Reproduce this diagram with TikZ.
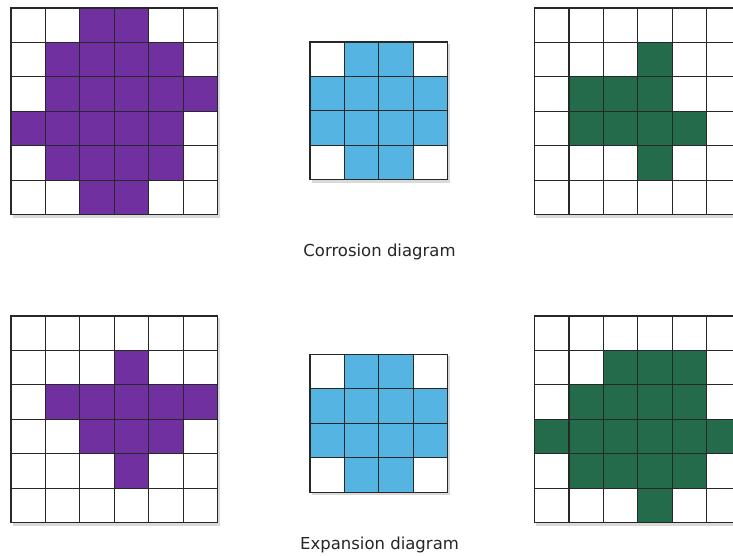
\documentclass[tikz,border=0pt]{standalone}
\usepackage{fontspec}
\setmainfont{DejaVu Sans}
\definecolor{cpurple}{RGB}{112,48,160}
\definecolor{cblue}{RGB}{86,180,227}
\definecolor{cgreen}{RGB}{35,107,75}
\definecolor{cline}{RGB}{40,40,40}
\tikzset{
  gridline/.style={draw=cline, line width=1.1pt, line cap=rect},
  caption/.style={font=\fontsize{16.5}{20}\selectfont, text=black!85, inner sep=0pt},
}
\newcommand{\cellgrid}[5]{%
  \begin{scope}[shift={(#1pt,-#2pt)}]
    \fill[black, opacity=0.15] (1.5pt,-2pt) rectangle ++(#3*34.45pt+1pt,-#3*34.45pt-1pt);
    \fill[white] (0pt,0pt) rectangle (#3*34.45pt,-#3*34.45pt);
    \foreach \c/\r in {#4} {\fill[#5] (\c*34.45pt,-\r*34.45pt) rectangle ++(34.45pt,-34.45pt);}
    \foreach \i in {0,...,#3} {
      \draw[gridline] (\i*34.45pt,0pt) -- (\i*34.45pt,-#3*34.45pt);
      \draw[gridline] (0pt,-\i*34.45pt) -- (#3*34.45pt,-\i*34.45pt);
    }
  \end{scope}}
\begin{document}
\begin{tikzpicture}
\useasboundingbox (0pt,0pt) rectangle (733pt,-555pt);
\clip (0pt,0pt) rectangle (733pt,-555pt);
\fill[white] (0pt,0pt) rectangle (733pt,-555pt);
% top row
\cellgrid{11}{8}{6}{2/0,3/0,1/1,2/1,3/1,4/1,1/2,2/2,3/2,4/2,5/2,0/3,1/3,2/3,3/3,4/3,1/4,2/4,3/4,4/4,2/5,3/5}{cpurple}
\cellgrid{310}{42}{4}{1/0,2/0,0/1,1/1,2/1,3/1,0/2,1/2,2/2,3/2,1/3,2/3}{cblue}
\cellgrid{534.5}{8}{6}{3/1,1/2,2/2,3/2,1/3,2/3,3/3,4/3,3/4}{cgreen}
\node[caption] (corr) at (379.5pt,-251.5pt) {Corrosion diagram};
% bottom row
\cellgrid{11}{316}{6}{3/1,1/2,2/2,3/2,4/2,5/2,2/3,3/3,4/3,3/4}{cpurple}
\cellgrid{310}{354.3}{4}{1/0,2/0,0/1,1/1,2/1,3/1,0/2,1/2,2/2,3/2,1/3,2/3}{cblue}
\cellgrid{534.5}{316}{6}{2/1,3/1,4/1,1/2,2/2,3/2,4/2,0/3,1/3,2/3,3/3,4/3,5/3,1/4,2/4,3/4,4/4,3/5}{cgreen}
\node[caption] (expa) at (379.5pt,-544.5pt) {Expansion diagram};
\end{tikzpicture}
\end{document}
